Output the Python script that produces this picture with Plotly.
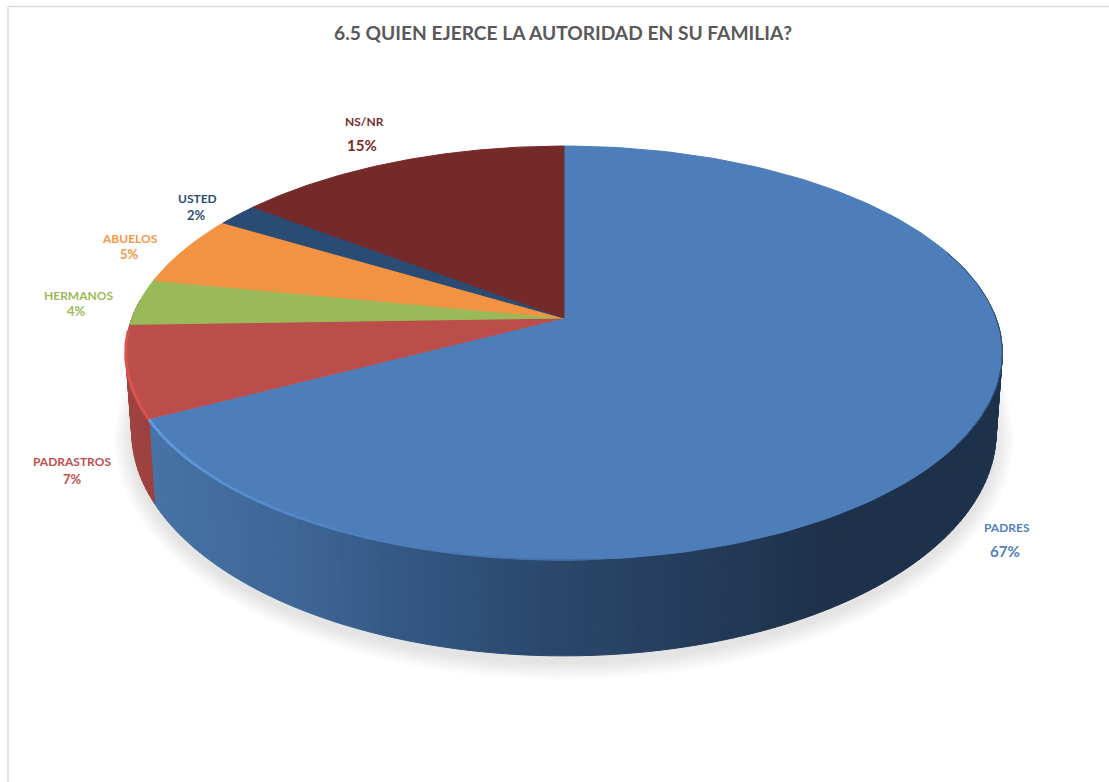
import numpy as np
import plotly.graph_objects as go

TITLE = "6.5 QUIEN EJERCE LA AUTORIDAD EN SU FAMILIA?"
categories = ["PADRES", "PADRASTROS", "HERMANOS", "ABUELOS", "USTED", "NS/NR"]
values = [67.3, 7.2, 3.6, 5.5, 1.8, 14.6]
percent_labels = ["67%", "7%", "4%", "5%", "2%", "15%"]

top_colors = ["#4d7eba", "#bb4e4b", "#9ab958", "#f29343", "#2a4b73", "#752a2a"]
label_colors = ["#4f81bd", "#c0504d", "#9bbb59", "#f79646", "#2c4d75", "#772c2a"]
name_pos = [(1007, 527), (72, 461), (78, 295), (130, 238), (197, 198), (364, 121)]
pct_pos = [(1005, 551), (72, 479), (76, 311), (129, 254), (196, 215), (362, 145)]

# Perspective projection of the pie disc onto the page
CX, CY, A, B, K = 564.0, 318.0, 432.0, 201.0, 0.169
BOT_Y, BOT_A, BOT_B = 394.0, 426.0, 217.6


def top_edge(theta):
    u, v = np.sin(theta), np.cos(theta)
    d = 1 + K * v
    return CX + A * u / d, CY - B * v / d


def bottom_edge(theta):
    u, v = np.sin(theta), np.cos(theta)
    d = 1 + K * v
    return CX + BOT_A * u / d, BOT_Y - BOT_B * v / d


def lerp_color(x, stops):
    xs = [s[0] for s in stops]
    rgb = [np.interp(x, xs, [s[1][i] for s in stops]) for i in range(3)]
    return "rgb(%d,%d,%d)" % tuple(int(round(c)) for c in rgb)


BLUE_SIDE = [(150, (70, 115, 165)), (300, (62, 102, 150)), (420, (50, 85, 130)),
             (564, (42, 70, 105)), (700, (36, 60, 90)), (820, (29, 49, 74)), (1010, (29, 49, 74))]
RED_SIDE = [(120, (160, 68, 66)), (160, (155, 64, 62))]

cum = np.concatenate([[0], np.cumsum(values)]) / np.sum(values) * 2 * np.pi

fig = go.Figure()


def poly(xs, ys, color, line=None):
    fig.add_trace(go.Scatter(x=xs, y=ys, mode="lines", fill="toself", fillcolor=color,
                             line=dict(color=line or color, width=1 if line else 0),
                             hoverinfo="skip", showlegend=False))


# soft shadow under the disc
for d in range(2, 20, 2):
    t = np.linspace(0, 2 * np.pi, 200)
    poly(564 + (432 + d) * np.sin(t), 438 + (224 + d) * np.cos(t), "rgba(0,0,0,0.012)")

# side wall: padres and padrastros slices with shading along the arc
side_start = np.radians(88)
side_end = cum[2] + 0.12
edges = np.linspace(side_start, side_end, 161)
for a0, a1 in zip(edges[:-1], edges[1:]):
    tx0, ty0 = top_edge(np.array([a0, a1]))
    bx0, by0 = bottom_edge(np.array([a1, a0]))
    xm = (tx0.mean() + bx0.mean()) / 2
    stops = BLUE_SIDE if (a0 + a1) / 2 < cum[1] else RED_SIDE
    col = lerp_color(xm, stops)
    poly(np.r_[tx0, bx0, tx0[0]], np.r_[ty0, by0, ty0[0]], col, line=col)

# top face slices
for i in range(len(values)):
    t = np.linspace(cum[i], cum[i + 1], 160)
    ex, ey = top_edge(t)
    poly(np.r_[CX, ex, CX], np.r_[CY, ey, CY], top_colors[i], line=top_colors[i])

# bevel highlights along the rim, fading away towards the front of the pie
rim = np.linspace(cum[1] - 1.15, cum[1], 60)
for a0, a1 in zip(rim[:-1], rim[1:]):
    ex, ey = top_edge(np.array([a0, a1]))
    frac = (a1 - rim[0]) / (rim[-1] - rim[0])
    col = lerp_color(frac, [(0, (66, 108, 160)), (0.5, (84, 134, 198)), (1, (100, 156, 226))])
    fig.add_trace(go.Scatter(x=ex, y=ey, mode="lines", line=dict(color=col, width=1.5 + 1.5 * frac),
                             hoverinfo="skip", showlegend=False))
ex, ey = top_edge(np.linspace(cum[1], cum[2] - 0.03, 30))
fig.add_trace(go.Scatter(x=ex, y=ey, mode="lines", line=dict(color="#d9534f", width=3),
                         hoverinfo="skip", showlegend=False))
ex, ey = top_edge(np.radians(np.linspace(70, 125, 60)))
fig.add_trace(go.Scatter(x=ex, y=ey, mode="lines", line=dict(color="#2c4a70", width=1),
                         hoverinfo="skip", showlegend=False))

# labels
annotations = []
for name, pct, col, np_, pp in zip(categories, percent_labels, label_colors, name_pos, pct_pos):
    annotations.append(dict(x=np_[0], y=np_[1], text=f"<b>{name}</b>", showarrow=False,
                            font=dict(family="Lato", size=12, color=col)))
    annotations.append(dict(x=pp[0], y=pp[1], text=f"<b>{pct}</b>", showarrow=False,
                            font=dict(family="Lato", size=15 if pct in ("67%", "15%") else 13, color=col)))
annotations.append(dict(x=563, y=32, text=f"<b>{TITLE}</b>", showarrow=False,
                        font=dict(family="Lato", size=19.2, color="#595959")))

fig.update_layout(
    width=1109, height=782, margin=dict(l=0, r=0, t=0, b=0),
    paper_bgcolor="white", plot_bgcolor="white", showlegend=False,
    xaxis=dict(range=[0, 1109], visible=False, fixedrange=True),
    yaxis=dict(range=[782, 0], visible=False, fixedrange=True),
    annotations=annotations,
    shapes=[
        dict(type="line", x0=8, x1=8, y0=6.5, y1=782, line=dict(color="#d9d9d9", width=1.5)),
        dict(type="line", x0=8, x1=1109, y0=6.5, y1=6.5, line=dict(color="#d9d9d9", width=1.5)),
    ],
)

fig.write_html("out.html", config={"displayModeBar": False},
               post_script="document.body.style.margin='0';document.body.style.overflow='hidden';")
